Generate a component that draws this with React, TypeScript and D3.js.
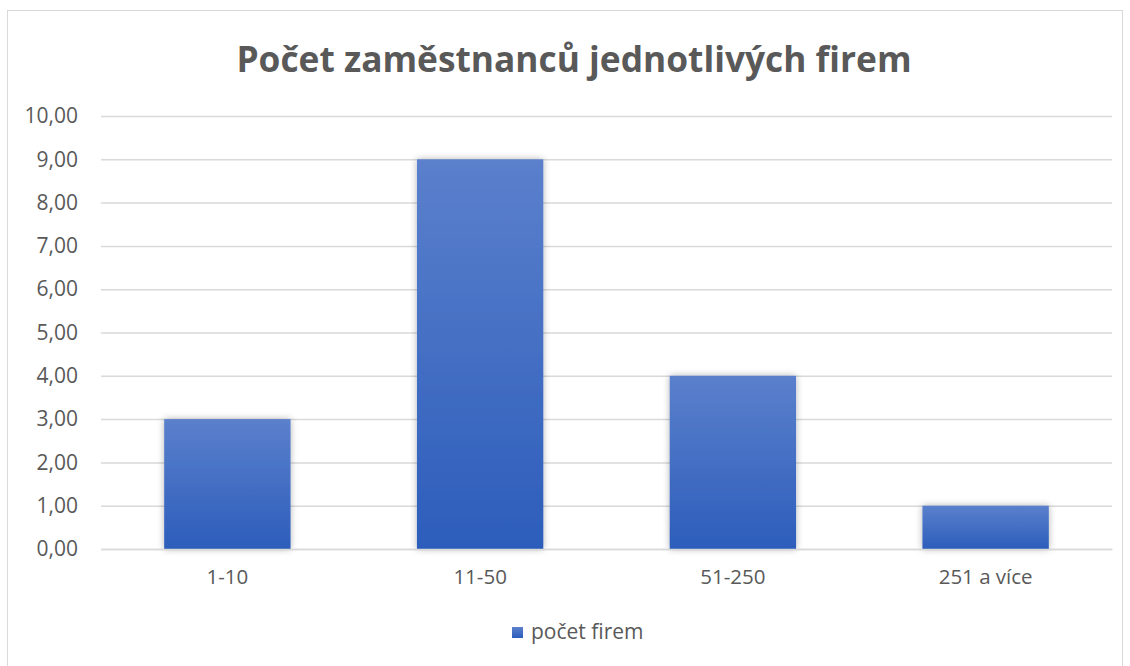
import { useEffect, useRef } from 'react'
import * as d3 from 'd3'

const categories = ['1-10', '11-50', '51-250', '251 a více']
const counts = [3, 9, 4, 1]
const yTicks = [0, 1, 2, 3, 4, 5, 6, 7, 8, 9, 10]
const seriesName = 'počet firem'
const title = 'Počet zaměstnanců jednotlivých firem'

export default function App() {
  const ref = useRef<SVGSVGElement | null>(null)
  useEffect(() => {
    if (!ref.current) return
    const svg = d3.select(ref.current)
    svg.selectAll('*').remove()
    const width = 1130
    const height = 666
    const margin = { top: 116, right: 18, bottom: 117, left: 101 }
    const font = '"Open Sans", sans-serif'
    const textColor = '#595959'

    const defs = svg.append('defs')
    const grad = defs
      .append('linearGradient')
      .attr('id', 'barGrad')
      .attr('x1', 0)
      .attr('y1', 0)
      .attr('x2', 0)
      .attr('y2', 1)
    grad.append('stop').attr('offset', '0%').attr('stop-color', '#5b80cc')
    grad.append('stop').attr('offset', '100%').attr('stop-color', '#2c5dbb')
    const shadow = defs
      .append('filter')
      .attr('id', 'shadow')
      .attr('x', '-20%')
      .attr('y', '-20%')
      .attr('width', '140%')
      .attr('height', '140%')
    shadow
      .append('feDropShadow')
      .attr('dx', 0)
      .attr('dy', 0)
      .attr('stdDeviation', 3.5)
      .attr('flood-color', '#000')
      .attr('flood-opacity', 0.3)

    svg
      .append('rect')
      .attr('x', 7.5)
      .attr('y', 10.5)
      .attr('width', width - 15)
      .attr('height', height)
      .attr('fill', '#fff')
      .attr('stroke', '#d9d9d9')

    const x = d3
      .scaleBand()
      .domain(categories)
      .range([margin.left, width - margin.right])
      .paddingInner(0.5)
      .paddingOuter(0.25)
    const y = d3
      .scaleLinear()
      .domain([0, 10])
      .range([height - margin.bottom, margin.top])

    const fmt = (v: number) => d3.format('.2f')(v).replace('.', ',')

    const yAxis = svg
      .append('g')
      .attr('transform', `translate(${margin.left},0)`)
      .call(
        d3
          .axisLeft(y)
          .tickValues(yTicks)
          .tickFormat((d) => fmt(d as number))
          .tickSize(-(width - margin.left - margin.right))
          .tickPadding(23)
      )
    yAxis.select('.domain').remove()
    yAxis
      .selectAll('.tick line')
      .attr('stroke', '#d9d9d9')
      .attr('stroke-width', 1.5)
    yAxis
      .selectAll('.tick text')
      .attr('fill', textColor)
      .style('font-family', font)
      .style('font-size', '21px')

    svg
      .append('g')
      .selectAll('rect')
      .data(counts)
      .enter()
      .append('rect')
      .attr('x', (_, i) => x(categories[i])!)
      .attr('y', (d) => y(d))
      .attr('width', x.bandwidth())
      .attr('height', (d) => y(0) - y(d))
      .attr('fill', 'url(#barGrad)')
      .attr('filter', 'url(#shadow)')

    const xAxis = svg
      .append('g')
      .attr('transform', `translate(0,${y(0)})`)
      .call(d3.axisBottom(x).tickSize(0).tickPadding(20))
    xAxis.select('.domain').attr('stroke', '#d9d9d9').attr('stroke-width', 1.5)
    xAxis
      .selectAll('.tick text')
      .attr('fill', textColor)
      .style('font-family', font)
      .style('font-size', '20.5px')

    svg
      .append('text')
      .attr('x', 574)
      .attr('y', 72)
      .attr('text-anchor', 'middle')
      .attr('fill', textColor)
      .style('font-family', font)
      .style('font-weight', 700)
      .style('font-size', '35.3px')
      .text(title)

    const legend = svg.append('g').attr('transform', 'translate(512,627)')
    legend
      .append('rect')
      .attr('width', 11)
      .attr('height', 11)
      .attr('fill', 'url(#barGrad)')
    legend
      .append('text')
      .attr('x', 19)
      .attr('y', 12)
      .attr('fill', textColor)
      .style('font-family', font)
      .style('font-size', '21px')
      .text(seriesName)
  }, [])
  return (
    <svg
      ref={ref}
      width={1130}
      height={666}
      style={{ position: 'absolute', left: 0, top: 0 }}
    />
  )
}
